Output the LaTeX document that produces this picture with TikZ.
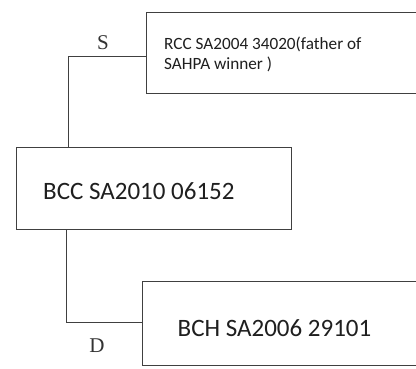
\documentclass[tikz,border=0pt]{standalone}
\usepackage{fontspec}
\setmainfont{Carlito}
\newfontfamily\hand{Liberation Serif}
\begin{document}
\begin{tikzpicture}[x=1pt,y=-1pt,
  frame/.style={draw=none,rectangle,inner sep=0pt},
  edge/.style={draw=black!75,line width=0.8pt},
  conn/.style={draw=black!75,line width=0.8pt},
  lbl/.style={font=\fontsize{21}{21}\hand,text=black!80},
  txt/.style={text=black!88,inner sep=0pt}]
\useasboundingbox[fill=white] (0,0) rectangle (416,368);
% box frames (right side open)
\node[frame,minimum width=269pt,minimum height=80pt] (topbox) at (281.5,53) {};
\node[frame,minimum width=274pt,minimum height=81pt] (midbox) at (154,188.5) {};
\node[frame,minimum width=273pt,minimum height=83pt] (botbox) at (279.5,323.5) {};
\draw[edge] (topbox.north east) -- (topbox.north west) -- (topbox.south west) -- (topbox.south east);
\draw[edge] (midbox.north west) rectangle (midbox.south east);
\draw[edge] (botbox.north east) -- (botbox.north west) -- (botbox.south west) -- (botbox.south east);
% texts
\node[txt,anchor=west,align=left,font=\fontsize{17.2}{20}\selectfont] (toptxt) at (164,54) {RCC SA2004 34020(father of\\SAHPA winner )};
\node[txt,anchor=west,font=\fontsize{25}{25}\selectfont] (midtxt) at (43,191) {BCC SA2010 06152};
\node[txt,font=\fontsize{25}{25}\selectfont] (bottxt) at (274.5,328) {BCH SA2006 29101};
% connectors
\coordinate (c1) at (68,56);
\coordinate (c2) at (66,322);
\draw[conn] (topbox.west |- c1) -- (c1) -- (c1 |- midbox.north);
\draw[conn] (midbox.south -| c2) -- (c2) -- (c2 -| botbox.west);
% labels
\node[lbl] (sl) at (103,43) {S};
\node[lbl] (dl) at (97,346) {D};
\end{tikzpicture}
\end{document}
